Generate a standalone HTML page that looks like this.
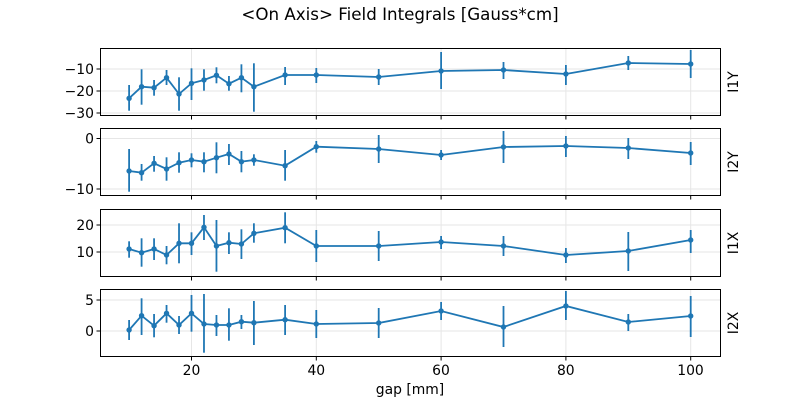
<!DOCTYPE html>
<html><head><meta charset="utf-8"><style>
html,body{margin:0;padding:0;background:#fff;}
svg{display:block;font-family:"DejaVu Sans","Liberation Sans",sans-serif;}
</style></head><body>
<svg id="s" width="800" height="400" viewBox="0 0 800 400" xmlns="http://www.w3.org/2000/svg">
<rect width="800" height="400" fill="#fff"/>
<text x="400" y="20" font-size="16.7" text-anchor="middle">&lt;On Axis&gt; Field Integrals [Gauss*cm]</text>
<g id="grid" stroke="#e6e6e6" stroke-width="1"></g>
<g id="data"></g>
<g fill="none" stroke="#000" stroke-width="1">
<rect x="100.5" y="48.5" width="620" height="67"/>
<rect x="100.5" y="128.5" width="620" height="67"/>
<rect x="100.5" y="209.5" width="620" height="67"/>
<rect x="100.5" y="289.5" width="620" height="67"/>
</g>
<g font-size="13.9" text-anchor="end">
<text x="94" y="74">−10</text><text x="94" y="96">−20</text><text x="94" y="118">−30</text>
<text x="94" y="143.5">0</text><text x="94" y="194">−10</text>
<text x="94" y="230">20</text><text x="94" y="257">10</text>
<text x="94" y="305">5</text><text x="94" y="336">0</text>
</g>
<g font-size="13.9" text-anchor="middle">
<text x="191.5" y="375">20</text><text x="316.3" y="375">40</text><text x="441" y="375">60</text><text x="565.8" y="375">80</text><text x="690.5" y="375">100</text>
<text x="410" y="394">gap [mm]</text>
</g>
<g font-size="13.9" text-anchor="middle">
<text transform="translate(738,82) rotate(-90)">I1Y</text>
<text transform="translate(738,162) rotate(-90)">I2Y</text>
<text transform="translate(738,243) rotate(-90)">I1X</text>
<text transform="translate(738,323) rotate(-90)">I2X</text>
</g>
</svg>
<script>
var xs=[10,12,14,16,18,20,22,24,26,28,30,35,40,50,60,70,80,90,100];
function X(v){return 191.5+(v-20)*6.24;}
var P=[
{t:[48,116],g:[69,91,113],d:[[98.3,85,110.7],[86.7,69.3,104.7],[87.7,80,95.7],[77.7,70,85],[94,77.3,110.7],[83.3,68.3,100],[80,69.3,90.7],[75.3,67.3,83.3],[83.7,76,90.7],[77.7,64.3,92.3],[86.7,63.3,111.7],[75,67,85],[75,68,83],[77,69,85],[71,52,89],[70,62,79],[74,65,85],[63,56,70],[64,50,78]]},
{t:[128,196],g:[138.5,189],d:[[171,149,191.7],[172.7,164,180.7],[163.3,156,171.7],[169,157.3,180.7],[162.7,152.3,172.7],[160,153.3,167.3],[161.7,152.3,172.3],[157.7,142.3,173.3],[154,144,165],[161.7,151,172.3],[160,154.3,165.7],[165.7,150,180.7],[146.7,141,152.7],[149,135,163],[155,150,160],[147,131,163],[146,136,157],[148,138,159],[153,142,165]]},
{t:[209,277],g:[225,252],d:[[249,241.3,257.7],[252.7,238.3,266.7],[249,238.3,260],[255,246,264.3],[243.3,223.3,263.3],[243.3,232.3,255],[227.3,215,240],[246,220,271.7],[242.7,232.3,254],[244,229.3,259],[233.3,223.3,242.7],[227.7,212.3,243.3],[246,230,262],[246,231,261],[242,236,249],[246,236,256],[255,248,263],[251,232,271],[240,230,253]]},
{t:[289,357],g:[300,331],d:[[330,320,340],[315.7,298.3,335],[325.7,314,337.3],[313.3,305,322.7],[325,316,334],[313.3,295,331.7],[324,294,352.7],[325,315,336],[325,308.3,340.7],[321.7,315,329],[322.7,301,345],[319.7,305,335],[324,310,338],[323,308,338],[311,302,320],[327,306,347],[306,291,320],[322,314,331],[316,296,337]]}];
var ns="http://www.w3.org/2000/svg",G=document.getElementById('grid'),D=document.getElementById('data');
function el(p,tag,a){var e=document.createElementNS(ns,tag);for(var k in a)e.setAttribute(k,a[k]);p.appendChild(e);return e;}
var tickG=document.getElementById('s');
P.forEach(function(p){
 [20,40,60,80,100].forEach(function(v){var x=X(v);el(G,'line',{x1:x,x2:x,y1:p.t[0],y2:p.t[1]});
  el(tickG,'line',{x1:x,x2:x,y1:p.t[1],y2:p.t[1]+3.5,stroke:'#000'});});
 p.g.forEach(function(y){el(G,'line',{x1:100,x2:720,y1:y,y2:y});el(tickG,'line',{x1:96.5,x2:100,y1:y,y2:y,stroke:'#000'});});
 var pts=p.d.map(function(d,i){return X(xs[i])+','+d[0];}).join(' ');
 p.d.forEach(function(d,i){el(D,'line',{x1:X(xs[i]),x2:X(xs[i]),y1:d[1],y2:d[2],stroke:'#1f77b4','stroke-width':1.8});});
 el(D,'polyline',{points:pts,fill:'none',stroke:'#1f77b4','stroke-width':1.8});
 p.d.forEach(function(d,i){el(D,'circle',{cx:X(xs[i]),cy:d[0],r:2.7,fill:'#1f77b4'});});
});
</script>
</body></html>
